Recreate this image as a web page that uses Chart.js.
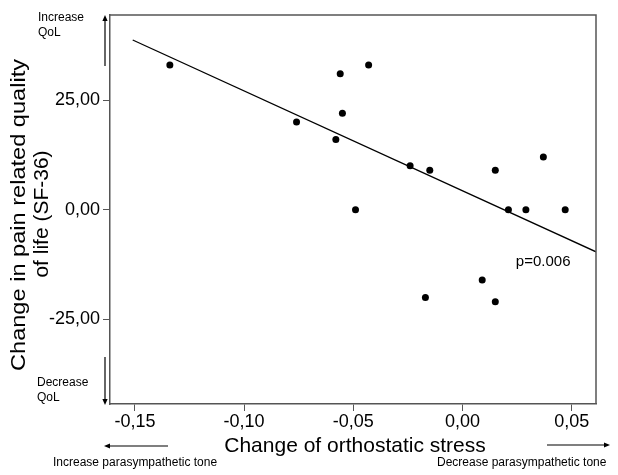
<!DOCTYPE html>
<html><head><meta charset="utf-8">
<script src="https://cdn.jsdelivr.net/npm/chart.js@4"></script>
<style>html,body{margin:0;padding:0;background:#fff}#wrap{width:618px;height:475px}</style>
</head><body><div id="wrap"><canvas id="c" width="618" height="475"></canvas></div>
<script>
// Data
const orthostaticChange = [-0.134, -0.056, -0.043, -0.055, -0.076, -0.058, -0.049, -0.024, -0.015, 0.015, 0.037, 0.021, 0.029, 0.047, 0.009, -0.017, 0.015];
const qolChange        = [33, 31, 33, 22, 20, 16, 0, 10, 9, 9, 12, 0, 0, 0, -16, -20, -21];
const fitX = [-0.151, 0.0611];
const fitY = [38.7, -9.6];
const xTicks = [-0.15, -0.10, -0.05, 0, 0.05];
const yTicks = [-25, 0, 25];
const xTitle = 'Change of orthostatic stress';
const yTitle = ['Change in pain related quality', 'of life (SF-36)'];
const pText = 'p=0.006';

const FONT = '"Liberation Sans", Arial, Helvetica, sans-serif';
const AXIS = '#555';
const fmt = v => Number(v).toFixed(2).replace('.', ',');

const scatterData = orthostaticChange.map((x, i) => ({x, y: qolChange[i]}));
const fitData = fitX.map((x, i) => ({x, y: fitY[i]}));

function arrow(ctx, x1, y1, x2, y2) {
  const ang = Math.atan2(y2 - y1, x2 - x1), L = 6, W = 2.6;
  ctx.beginPath(); ctx.moveTo(x1, y1); ctx.lineTo(x2 - L * 0.6 * Math.cos(ang), y2 - L * 0.6 * Math.sin(ang)); ctx.stroke();
  ctx.beginPath();
  ctx.moveTo(x2, y2);
  ctx.lineTo(x2 - L * Math.cos(ang) + W * Math.sin(ang), y2 - L * Math.sin(ang) - W * Math.cos(ang));
  ctx.lineTo(x2 - L * Math.cos(ang) - W * Math.sin(ang), y2 - L * Math.sin(ang) + W * Math.cos(ang));
  ctx.closePath(); ctx.fill();
}

const decor = {
  id: 'decor',
  afterDraw(chart) {
    const ctx = chart.ctx, a = chart.chartArea, xs = chart.scales.x, ys = chart.scales.y;
    ctx.save();
    // top & right frame
    ctx.strokeStyle = AXIS; ctx.lineWidth = 1.5;
    ctx.beginPath(); ctx.moveTo(a.left, a.top); ctx.lineTo(a.right, a.top); ctx.lineTo(a.right, a.bottom); ctx.stroke();
    ctx.fillStyle = '#000';
    // p value
    ctx.font = '15px ' + FONT; ctx.textAlign = 'left'; ctx.textBaseline = 'middle';
    ctx.fillText(pText, xs.getPixelForValue(0.0244), ys.getPixelForValue(-11.9));
    // x title
    ctx.font = '21px ' + FONT; ctx.textAlign = 'center';
    ctx.fillText(xTitle, 355, 446);
    // y title (first line is drawn longer in the reference)
    ctx.save(); ctx.translate(19, 215); ctx.rotate(-Math.PI / 2);
    const w1 = ctx.measureText(yTitle[0]).width; ctx.scale(312 / w1, 1);
    ctx.fillText(yTitle[0], 0, 0); ctx.restore();
    ctx.save(); ctx.translate(42, 214); ctx.rotate(-Math.PI / 2); ctx.fillText(yTitle[1], 0, 0); ctx.restore();
    // side notes
    ctx.font = '12px ' + FONT; ctx.textAlign = 'left';
    ctx.fillText('Increase', 38, 18); ctx.fillText('QoL', 38, 33);
    ctx.fillText('Decrease', 37, 383); ctx.fillText('QoL', 37, 398);
    ctx.fillText('Increase parasympathetic tone', 53, 463);
    ctx.fillText('Decrease parasympathetic tone', 437, 463);
    // arrows
    ctx.strokeStyle = '#000'; ctx.lineWidth = 1.2;
    arrow(ctx, 105, 66, 105, 15);
    arrow(ctx, 105, 357, 105, 405);
    arrow(ctx, 168, 446, 104, 446);
    arrow(ctx, 547, 445, 610, 445);
    ctx.restore();
  }
};

new Chart(document.getElementById('c'), {
  type: 'scatter',
  data: {
    datasets: [
      {data: scatterData, pointRadius: 3.5, pointBackgroundColor: '#000', pointBorderWidth: 0, pointBorderColor: '#000'},
      {data: fitData, showLine: true, pointRadius: 0, borderColor: '#000', borderWidth: 1.3, fill: false}
    ]
  },
  options: {
    responsive: false, animation: false, devicePixelRatio: 1,
    layout: {padding: {left: 0, top: 15, right: 22, bottom: 0}},
    plugins: {legend: {display: false}, tooltip: {enabled: false}},
    scales: {
      x: {
        type: 'linear', min: -0.1614, max: 0.0611,
        afterBuildTicks: s => { s.ticks = xTicks.map(v => ({value: v})); },
        afterFit: s => { s.height = 71; },
        ticks: {callback: v => fmt(v), font: {size: 18, family: FONT}, color: '#000', padding: 0, maxRotation: 0, autoSkip: false},
        grid: {drawOnChartArea: false, drawTicks: true, tickLength: 7, color: AXIS, lineWidth: 1},
        border: {display: true, color: AXIS, width: 1.5}
      },
      y: {
        type: 'linear', min: -44.3, max: 44.4,
        afterBuildTicks: s => { s.ticks = yTicks.map(v => ({value: v})); },
        afterFit: s => { s.width = 110; },
        ticks: {callback: v => fmt(v), font: {size: 18, family: FONT}, color: '#000', padding: 3, autoSkip: false},
        grid: {drawOnChartArea: false, drawTicks: true, tickLength: 7, color: AXIS, lineWidth: 1},
        border: {display: true, color: AXIS, width: 1.5}
      }
    }
  },
  plugins: [decor]
});
</script>
</body></html>
